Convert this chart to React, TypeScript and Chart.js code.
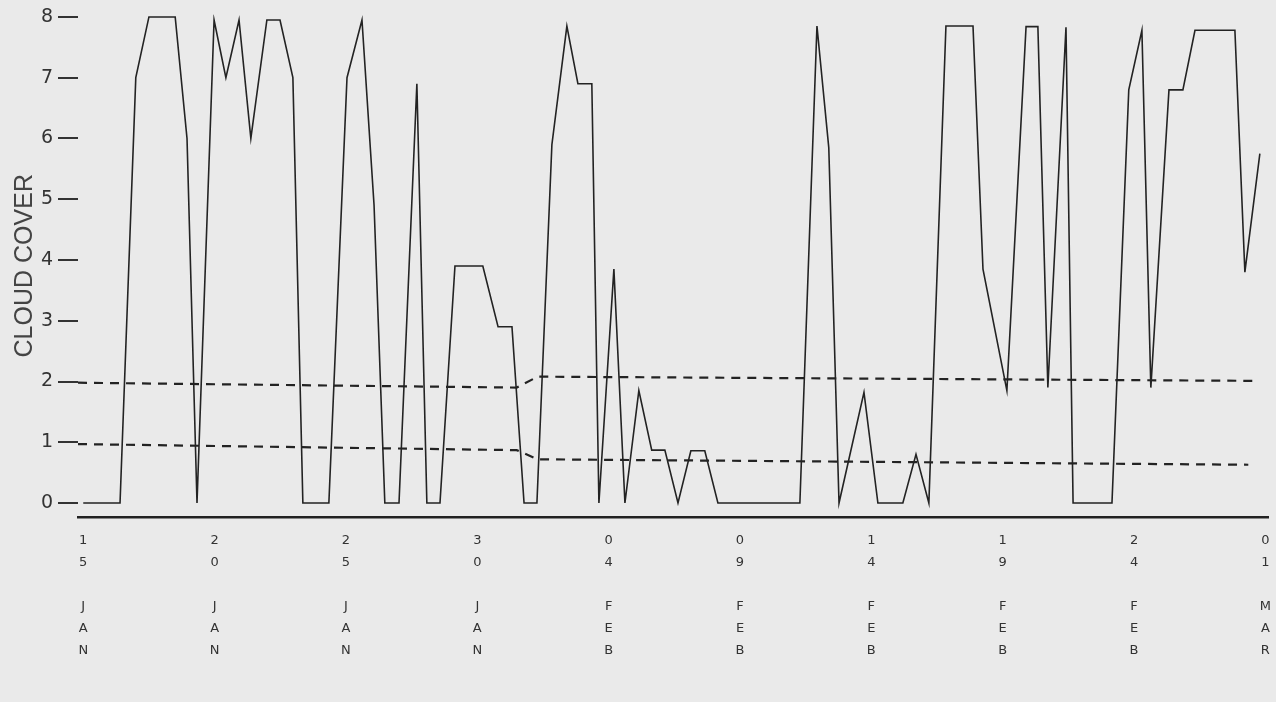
import { useEffect, useRef } from "react";
import { Chart, registerables } from "chart.js";

Chart.register(...registerables);

// Days after 15 JAN (twice-daily observations), cloud cover in oktas
const obsDays = [
  0.0, 1.4, 2.0, 2.5, 3.5, 3.95, 4.33, 4.98, 5.43, 5.93, 6.38, 6.99, 7.49, 7.98,
  8.36, 9.35, 10.04, 10.61, 11.07, 11.48, 12.02, 12.7, 13.08, 13.58, 14.15, 15.21,
  15.79, 16.32, 16.78, 17.27, 17.84, 18.41, 18.83, 19.36, 19.63, 20.2, 20.62, 21.15,
  21.64, 22.14, 22.64, 23.13, 23.66, 24.16, 27.28, 27.93, 28.38, 28.77, 29.72, 30.25,
  31.2, 31.7, 32.19, 32.84, 33.87, 34.25, 35.16, 35.89, 36.34, 36.72, 37.41, 37.68,
  39.16, 39.8, 40.3, 40.64, 41.33, 41.86, 42.32, 43.84, 44.22, 44.79,
];
const cloudCover = [
  0, 0, 7, 8, 8, 6, 0, 7.95, 7, 7.95, 6, 7.95, 7.95, 7,
  0, 0, 7, 7.95, 4.9, 0, 0, 6.9, 0, 0, 3.9, 3.9,
  2.9, 2.9, 0, 0, 5.9, 7.85, 6.9, 6.9, 0, 3.85, 0, 1.85,
  0.87, 0.87, 0, 0.86, 0.86, 0, 0, 7.85, 5.85, 0, 1.82, 0,
  0, 0.8, 0, 7.85, 7.85, 3.85, 1.85, 7.84, 7.84, 1.9, 7.83, 0,
  0, 6.8, 7.78, 1.9, 6.8, 6.8, 7.78, 7.78, 3.8, 5.75,
];

// Dashed reference levels
const upperDays = [-0.2, 16.5, 17.3, 44.68];
const upperLevel = [1.98, 1.9, 2.08, 2.01];
const lowerDays = [-0.2, 16.5, 17.3, 44.35];
const lowerLevel = [0.97, 0.87, 0.72, 0.63];

const yTickValues = [0, 1, 2, 3, 4, 5, 6, 7, 8];
const xTickDays = [0, 5, 10, 15, 20, 25, 30, 35, 40, 45];
const xTickLabels = [
  "15 JAN", "20 JAN", "25 JAN", "30 JAN", "04 FEB",
  "09 FEB", "14 FEB", "19 FEB", "24 FEB", "01 MAR",
];
const yAxisTitle = "CLOUD COVER";

const toPoints = (xs: number[], ys: number[]) => xs.map((x, i) => ({ x, y: ys[i] }));
const stackLabel = (s: string) => s.split("").map((c) => (c === " " ? "" : c));

export default function App() {
  const ref = useRef<HTMLCanvasElement | null>(null);

  useEffect(() => {
    if (!ref.current) return;
    const ink = "#232323";
    const chart = new Chart(ref.current, {
      type: "line",
      data: {
        datasets: [
          {
            data: toPoints(obsDays, cloudCover),
            borderColor: ink,
            borderWidth: 1.6,
            pointRadius: 0,
            tension: 0,
          },
          {
            data: toPoints(upperDays, upperLevel),
            borderColor: ink,
            borderWidth: 2.2,
            borderDash: [9, 7],
            pointRadius: 0,
            tension: 0,
          },
          {
            data: toPoints(lowerDays, lowerLevel),
            borderColor: ink,
            borderWidth: 2.2,
            borderDash: [9, 7],
            pointRadius: 0,
            tension: 0,
          },
        ],
      },
      options: {
        animation: false,
        responsive: false,
        devicePixelRatio: 1,
        layout: { padding: { top: 0, right: 8, bottom: 0, left: 0 } },
        plugins: { legend: { display: false }, tooltip: { enabled: false } },
        scales: {
          x: {
            type: "linear",
            min: -0.2,
            max: 45.1,
            afterFit: (s: any) => {
              s.height = 185;
            },
            afterBuildTicks: (s: any) => {
              s.ticks = xTickDays.map((v) => ({ value: v }));
            },
            grid: { display: false, drawTicks: true, tickLength: 13 },
            border: { display: true, color: "#222", width: 2.5 },
            ticks: {
              autoSkip: false,
              maxRotation: 0,
              minRotation: 0,
              padding: 0,
              color: "#333",
              font: { family: "DejaVu Sans", size: 13, lineHeight: 22 / 13 },
              callback: (_v: any, i: number) => stackLabel(xTickLabels[i]),
            },
          },
          y: {
            type: "linear",
            min: -0.23,
            max: 8.04,
            afterFit: (s: any) => {
              s.width = 78;
            },
            afterBuildTicks: (s: any) => {
              s.ticks = yTickValues.map((v) => ({ value: v }));
            },
            grid: {
              display: true,
              drawOnChartArea: false,
              drawTicks: true,
              tickLength: 20,
              color: "#333",
              lineWidth: 2,
            },
            border: { display: false },
            ticks: {
              padding: 5,
              color: "#333",
              font: { family: "DejaVu Sans", size: 19, lineHeight: 1 },
              callback: (v: any) => String(v),
            },
            title: {
              display: true,
              text: yAxisTitle,
              color: "#444",
              font: { family: "Liberation Sans", size: 25 },
              padding: { top: 10, bottom: 0 },
            },
          },
        },
      },
    });
    return () => chart.destroy();
  }, []);

  return (
    <div
      style={{
        position: "fixed",
        left: 0,
        top: 0,
        width: 1276,
        height: 702,
        background: "#eaeaea",
      }}
    >
      <canvas ref={ref} width={1276} height={702} />
    </div>
  );
}
